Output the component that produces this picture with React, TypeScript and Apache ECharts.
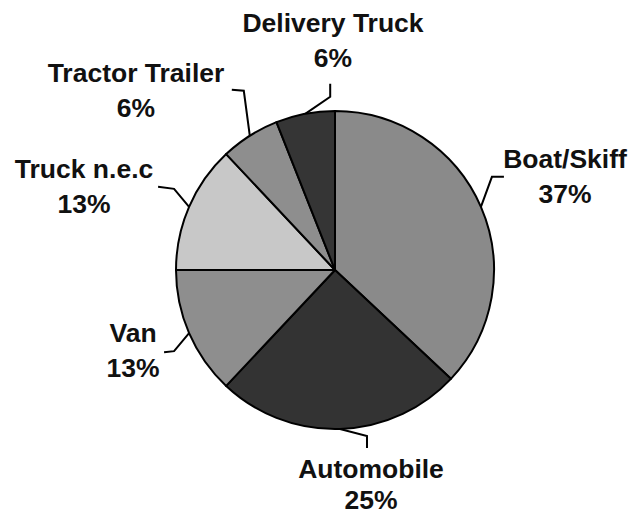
import React, { useEffect, useRef } from "react";
import * as echarts from "echarts";

const categories = ["Boat/Skiff", "Automobile", "Van", "Truck n.e.c", "Tractor Trailer", "Delivery Truck"];
const shares = [37, 25, 13, 13, 6, 6];
const colors = ["#8a8a8a", "#333333", "#8e8e8e", "#c8c8c8", "#8e8e8e", "#353535"];

// label block centres, line heights and leader-line bends (relative to the slice edge point)
const labelPos = [
  [565, 176],
  [371, 484],
  [133, 350],
  [84, 186],
  [136, 90],
  [333, 40],
];
const labelLineHeights = [35, 31, 35, 35, 35, 35];
const lineBends = [
  [[11, -30], [23, -30]],
  [[27, 7], [27, 19]],
  [[-15, 18], [-25, 19]],
  [[-15, -18], [-31, -20]],
  [[-6, -45], [-18, -46]],
  [[25, -17], [25, -30]],
];

export default function App() {
  const ref = useRef<HTMLDivElement>(null);
  useEffect(() => {
    if (!ref.current) return;
    const chart = echarts.init(ref.current, undefined, { renderer: "svg" });
    chart.setOption({
      animation: false,
      backgroundColor: "#ffffff",
      series: [
        {
          type: "pie",
          center: [335, 270],
          radius: 159,
          startAngle: 90,
          clockwise: true,
          avoidLabelOverlap: false,
          itemStyle: { borderColor: "#000", borderWidth: 2 },
          label: {
            show: true,
            position: "outside",
            formatter: (p: any) => `${p.name}\n${p.value}%`,
            fontFamily: "Liberation Sans, Arial, sans-serif",
            fontWeight: "bold",
            fontSize: 26.5,
            lineHeight: 35,
            color: "#111",
            align: "center",
          },
          labelLine: {
            show: true,
            length: 20,
            length2: 10,
            lineStyle: { color: "#000", width: 2 },
          },
          labelLayout: (params: any) => {
            const i = params.dataIndex;
            const p0 = params.labelLinePoints ? params.labelLinePoints[0] : [0, 0];
            const pts = [p0, ...lineBends[i].map((d) => [p0[0] + d[0], p0[1] + d[1]])];
            return {
              x: labelPos[i][0],
              y: labelPos[i][1],
              align: "center",
              verticalAlign: "middle",
              labelLinePoints: pts,
            };
          },
          data: categories.map((name, i) => ({
            name,
            value: shares[i],
            itemStyle: { color: colors[i] },
            label: { lineHeight: labelLineHeights[i] },
          })),
        },
      ],
    });
    return () => chart.dispose();
  }, []);
  return (
    <div
      ref={ref}
      style={{ position: "absolute", left: 0, top: 0, width: 635, height: 516 }}
    />
  );
}
